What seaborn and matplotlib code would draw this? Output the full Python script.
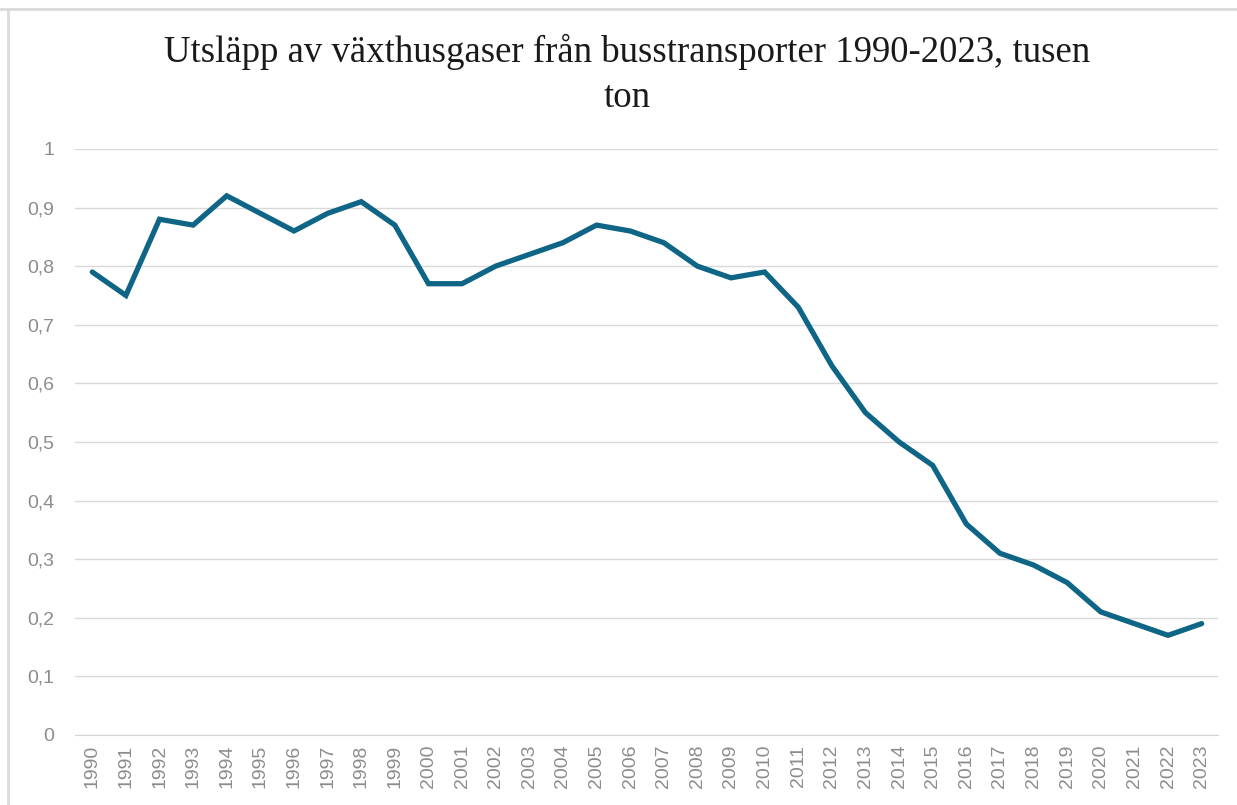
import numpy as np
import pandas as pd
import matplotlib
matplotlib.use("Agg")
import matplotlib.pyplot as plt
import seaborn as sns
from matplotlib.lines import Line2D

# ---------------------------------------------------------------------
# Data
# ---------------------------------------------------------------------
YEARS = [str(y) for y in range(1990, 2024)]
EMISSIONS = [0.79, 0.75, 0.88, 0.87, 0.92, 0.89, 0.86, 0.89, 0.91, 0.87,
             0.77, 0.77, 0.80, 0.82, 0.84, 0.87, 0.86, 0.84, 0.80, 0.78,
             0.79, 0.73, 0.63, 0.55, 0.50, 0.46, 0.36, 0.31, 0.29, 0.26,
             0.21, 0.19, 0.17, 0.19]
Y_TICKS = [0, 0.1, 0.2, 0.3, 0.4, 0.5, 0.6, 0.7, 0.8, 0.9, 1.0]
TITLE = "Utsläpp av växthusgaser från busstransporter 1990-2023, tusen\nton"

df = pd.DataFrame({"pos": np.arange(len(YEARS)), "value": EMISSIONS})

sns.set_style("white")
plt.rcParams["font.family"] = ["Liberation Sans", "DejaVu Sans"]

fig = plt.figure(figsize=(12.37, 8.05), dpi=100)
ax = fig.add_axes([0.061, 0.087, 0.924, 0.728])

sns.lineplot(data=df, x="pos", y="value", ax=ax, color="#0E6585",
             linewidth=3.8, solid_joinstyle="miter")

ax.set_xlim(-0.5, len(YEARS) - 0.5)
ax.set_ylim(0, 1.0)
ax.set_xticks(df["pos"])
ax.set_xticklabels(YEARS, rotation=90, fontsize=14, color="#8C8C8C")
ax.set_yticks(Y_TICKS)
ax.set_yticklabels([f"{t:g}".replace(".", ",") for t in Y_TICKS],
                   fontsize=14, color="#8C8C8C")
ax.tick_params(axis="y", length=0, pad=15)
ax.tick_params(axis="x", length=0, pad=7)
ax.grid(axis="y", color="#D9D9D9", linewidth=1)
ax.set_xlabel("")
ax.set_ylabel("")
for side in ["top", "right", "left"]:
    ax.spines[side].set_visible(False)
ax.spines["bottom"].set_color("#D4D4D4")
ax.spines["bottom"].set_zorder(0)

fig.text(0.507, 0.908, TITLE, ha="center", va="center", fontsize=26.5,
         family=["Liberation Serif", "DejaVu Serif"], color="#1A1A1A",
         linespacing=1.4)

# light frame lines (top and left) around the chart
fig.lines.append(Line2D([0, 1], [0.989, 0.989], transform=fig.transFigure,
                        color="#DADADA", linewidth=2))
fig.lines.append(Line2D([0.0065, 0.0065], [0, 0.989], transform=fig.transFigure,
                        color="#DADADA", linewidth=2))

fig.savefig("out.png", dpi=100)
